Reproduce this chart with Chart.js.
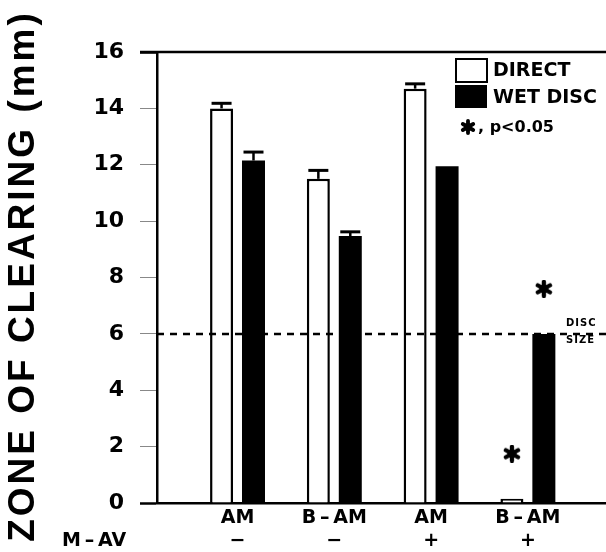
<!DOCTYPE html>
<html><head><meta charset="utf-8">
<script src="https://cdn.jsdelivr.net/npm/chart.js@4"></script>
<style>html,body{margin:0;padding:0;background:#fff}#wrap{width:606px;height:552px}</style>
</head><body><div id="wrap"><canvas id="c" width="606" height="552"></canvas></div>
<script>
// ---- data ----
const categories = ["AM", "B\u2009\u2013\u2009AM", "AM", "B\u2009\u2013\u2009AM"];
const mavSigns = ["\u2212", "\u2212", "+", "+"];
const categoryX = [1, 2, 3, 4];
const directValues = [14.0, 11.5, 14.7, 0.15];
const directErrors = [0.18, 0.3, 0.17, 0];
const wetDiscValues = [12.15, 9.47, 11.95, 6.0];
const wetDiscErrors = [0.3, 0.15, 0, 0];
const directSignificant = [false, false, false, true];
const wetDiscSignificant = [false, false, false, true];
const discSize = 6;
const yTicks = [0, 2, 4, 6, 8, 10, 12, 14, 16];
const xRange = [0.168, 4.807];

const FONT = "'DejaVu Sans', sans-serif";

function asteriskCanvas(size) {
  const cv = document.createElement('canvas');
  cv.width = size; cv.height = size;
  const g = cv.getContext('2d');
  const c = size / 2, r = size / 2 - 2;
  g.strokeStyle = '#000'; g.lineWidth = size * 0.24; g.lineCap = 'round';
  for (let k = 0; k < 3; k++) {
    const a = Math.PI / 2 + k * Math.PI / 3;
    g.beginPath();
    g.moveTo(c + r * Math.cos(a), c + r * Math.sin(a));
    g.lineTo(c - r * Math.cos(a), c - r * Math.sin(a));
    g.stroke();
  }
  g.fillStyle = '#000'; g.beginPath(); g.arc(c, c, size * 0.25, 0, Math.PI * 2); g.fill();
  return cv;
}
const star = asteriskCanvas(18);
const starSmall = asteriskCanvas(16);

const overlay = {
  id: 'overlay',
  afterDatasetsDraw(chart) {
    const ctx = chart.ctx, y = chart.scales.y;
    const errs = [directErrors, wetDiscErrors];
    const vals = [directValues, wetDiscValues];
    const sigs = [directSignificant, wetDiscSignificant];
    ctx.save();
    ctx.strokeStyle = '#000';
    [0, 1].forEach(di => {
      const meta = chart.getDatasetMeta(di);
      meta.data.forEach((el, i) => {
        const e = errs[di][i];
        if (e > 0) {
          const top = y.getPixelForValue(vals[di][i]);
          const tip = y.getPixelForValue(vals[di][i] + e);
          ctx.lineWidth = 2.5;
          ctx.beginPath(); ctx.moveTo(el.x, top); ctx.lineTo(el.x, tip); ctx.stroke();
          ctx.lineWidth = 3;
          ctx.beginPath(); ctx.moveTo(el.x - 10, tip); ctx.lineTo(el.x + 10, tip); ctx.stroke();
        }
        if (sigs[di][i]) {
          const sy = y.getPixelForValue(vals[di][i] + 1.6);
          ctx.drawImage(star, el.x - 9, sy - 9);
        }
      });
    });
    ctx.restore();
  },
  afterDraw(chart) {
    const ctx = chart.ctx, a = chart.chartArea;
    ctx.save();
    // top frame line
    ctx.strokeStyle = '#000'; ctx.lineWidth = 2.5;
    ctx.beginPath(); ctx.moveTo(a.left - 17, a.top); ctx.lineTo(a.right, a.top); ctx.stroke();
    // y title
    ctx.save();
    ctx.translate(24, 276);
    ctx.rotate(-Math.PI / 2);
    ctx.font = "bold 37px 'Liberation Sans', sans-serif";
    ctx.letterSpacing = '3px';
    ctx.fillStyle = '#000';
    ctx.textAlign = 'center'; ctx.textBaseline = 'middle';
    ctx.fillText('ZONE OF CLEARING (mm)', 0, 0);
    ctx.restore();
    // M-AV label
    ctx.font = 'bold 19px ' + FONT;
    ctx.fillStyle = '#000'; ctx.textAlign = 'left'; ctx.textBaseline = 'middle';
    ctx.fillText('M\u2009\u2013\u2009AV', 62, 541);
    // legend
    ctx.lineWidth = 2;
    ctx.fillStyle = '#fff';
    ctx.fillRect(456, 59, 31, 23); ctx.strokeRect(456, 59, 31, 23);
    ctx.fillStyle = '#000';
    ctx.fillRect(455, 85, 32, 23);
    ctx.font = 'bold 19px ' + FONT;
    ctx.fillText('DIRECT', 493, 71);
    ctx.fillText('WET DISC', 493, 98);
    ctx.drawImage(starSmall, 460, 119);
    ctx.font = 'bold 16px ' + FONT;
    ctx.fillText(', p<0.05', 478, 128);
    // disc size label
    ctx.font = 'bold 10px ' + FONT;
    ctx.letterSpacing = '1px';
    ctx.fillText('DISC', 566, 323);
    ctx.fillText('SIZE', 566, 340);
    ctx.restore();
  }
};

new Chart(document.getElementById('c'), {
  type: 'bar',
  data: {
    datasets: [
      { label: 'DIRECT', data: categoryX.map((x, i) => ({ x, y: directValues[i] })),
        backgroundColor: '#fff', borderColor: '#000', borderWidth: 2.5, borderSkipped: 'bottom',
        categoryPercentage: 0.66, barPercentage: 0.72, order: 2 },
      { label: 'WET DISC', data: categoryX.map((x, i) => ({ x, y: wetDiscValues[i] })),
        backgroundColor: '#000', borderColor: '#000', borderWidth: 0,
        categoryPercentage: 0.66, barPercentage: 0.72, order: 2 },
      { type: 'line', label: 'disc size', data: [{ x: xRange[0], y: discSize }, { x: xRange[1], y: discSize }],
        borderColor: '#000', borderWidth: 2.5, borderDash: [7, 6], pointRadius: 0, fill: false, order: 1 }
    ]
  },
  options: {
    responsive: false, animation: false,
    layout: { padding: { top: 52, right: 0, left: 0, bottom: 0 } },
    plugins: { legend: { display: false }, tooltip: { enabled: false } },
    scales: {
      x: {
        type: 'linear', min: xRange[0], max: xRange[1], offset: false,
        afterBuildTicks: s => { s.ticks = categoryX.map(v => ({ value: v })); },
        afterFit: s => { s.height = 49; },
        ticks: { color: '#000', font: { family: FONT, weight: 'bold', size: 19 }, padding: 4,
                 autoSkip: false, maxRotation: 0,
                 callback: v => { const i = categoryX.indexOf(v); return i < 0 ? '' : [categories[i], mavSigns[i]]; } },
        grid: { display: false, drawTicks: false },
        border: { display: true, color: '#000', width: 2.5 }
      },
      y: {
        min: 0, max: 16,
        afterBuildTicks: s => { s.ticks = yTicks.map(v => ({ value: v })); },
        afterFit: s => { s.width = 157; },
        ticks: { color: '#000', font: { family: FONT, weight: 'bold', size: 22 }, padding: 16 },
        grid: { drawOnChartArea: false, drawTicks: true, tickLength: 17,
                tickColor: c => (c.tick && (c.tick.value === 0 || c.tick.value === 16)) ? '#000' : '#888',
                tickWidth: c => (c.tick && (c.tick.value === 0 || c.tick.value === 16)) ? 2.5 : 1 },
        border: { display: true, color: '#000', width: 2.5 }
      }
    }
  },
  plugins: [overlay]
});
</script></body></html>
